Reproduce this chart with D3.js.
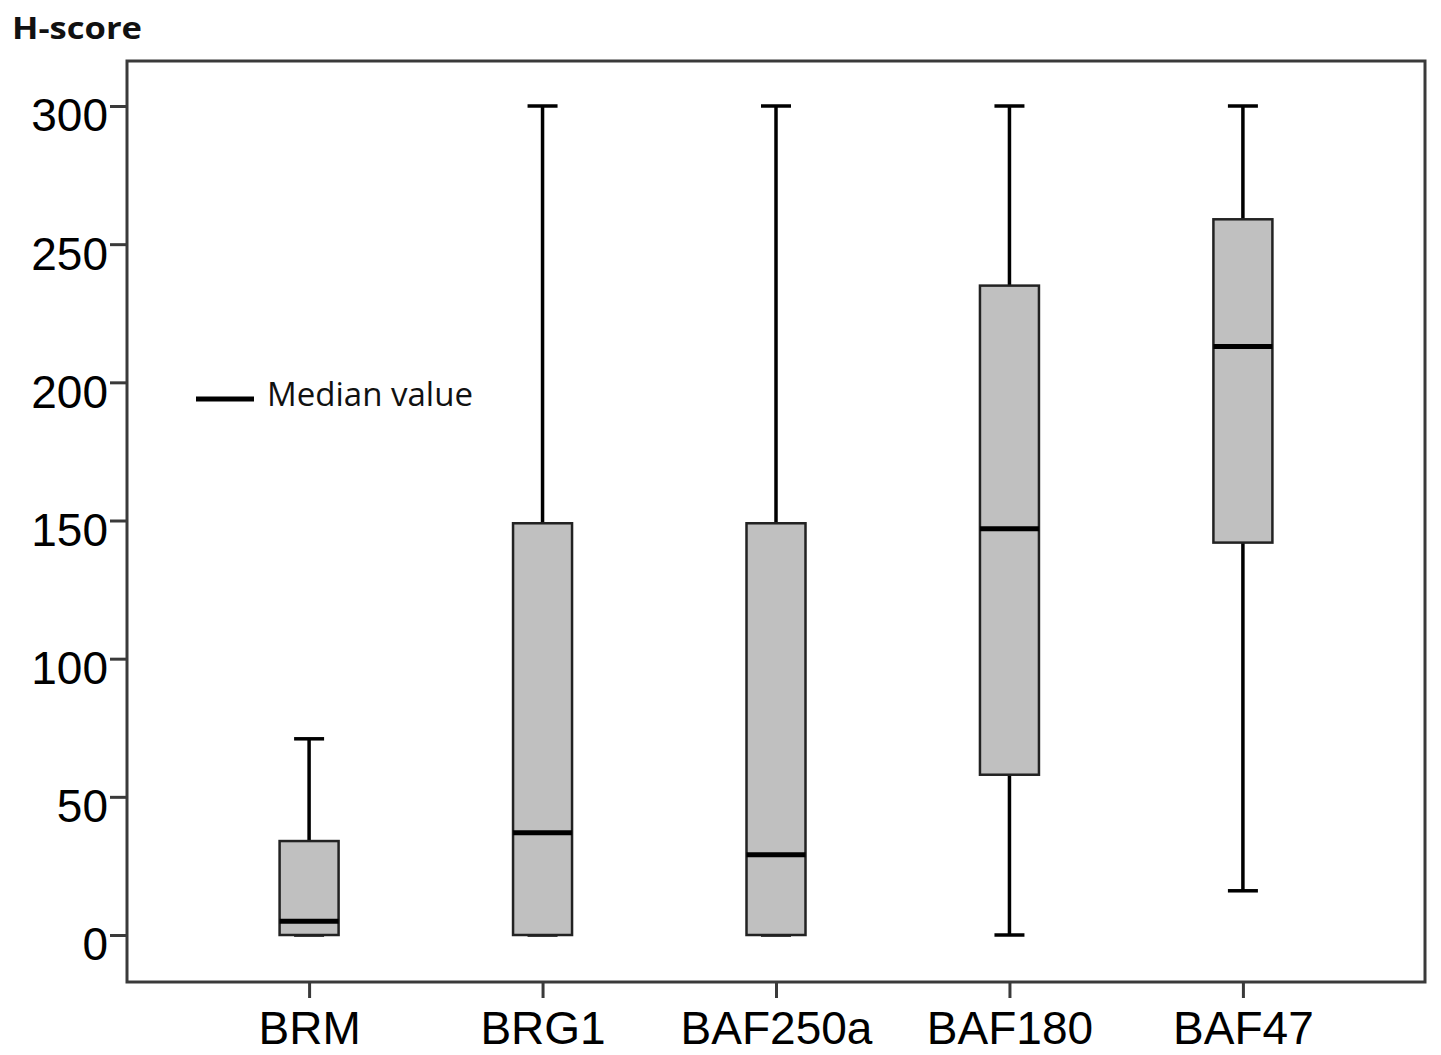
<!DOCTYPE html>
<html>
<head>
<meta charset="utf-8">
<script src="https://cdn.jsdelivr.net/npm/d3@7"></script>
<style>
  html, body { margin: 0; padding: 0; background: #fff; }
  svg { display: block; }
</style>
</head>
<body>
<svg id="chart" width="1441" height="1055"></svg>
<script>
(function () {
  "use strict";

  // box-plot summaries (H-score)
  const categories = ["BRM", "BRG1", "BAF250a", "BAF180", "BAF47"];
  const whiskerLow = [0, 0, 0, 0, 16];
  const q1 = [0, 0, 0, 58, 142];
  const median = [5, 37, 29, 147, 213];
  const q3 = [34, 149, 149, 235, 259];
  const whiskerHigh = [71, 300, 300, 300, 300];
  const yTicks = [0, 50, 100, 150, 200, 250, 300];

  const frame = { left: 127, right: 1425, top: 61, bottom: 982 };
  const boxWidth = 59;
  const capWidth = 30;

  const svg = d3.select("#chart");

  const x = d3.scalePoint()
    .domain(categories)
    .range([frame.left, frame.right])
    .padding(0.78);

  const y = d3.scaleLinear()
    .domain([0, 300])
    .range([935, 106]);

  const rows = categories.map((c, i) => ({
    cat: c,
    lo: whiskerLow[i],
    q1: q1[i],
    med: median[i],
    q3: q3[i],
    hi: whiskerHigh[i]
  }));

  // frame
  svg.append("rect")
    .attr("x", frame.left)
    .attr("y", frame.top)
    .attr("width", frame.right - frame.left)
    .attr("height", frame.bottom - frame.top)
    .attr("fill", "none")
    .attr("stroke", "#3a3a3a")
    .attr("stroke-width", 3);

  // y axis
  const yAxis = svg.append("g")
    .attr("transform", `translate(${frame.left},0)`)
    .call(d3.axisLeft(y).tickValues(yTicks).tickSize(17).tickPadding(2));
  yAxis.select(".domain").remove();
  yAxis.selectAll(".tick line").attr("stroke", "#3a3a3a").attr("stroke-width", 3);
  yAxis.selectAll(".tick text")
    .attr("font-family", "'Liberation Sans', Arial, sans-serif")
    .attr("font-size", 46)
    .attr("fill", "#000")
    .attr("dy", "0.54em");

  // x axis
  const xAxis = svg.append("g")
    .attr("transform", `translate(0,${frame.bottom})`)
    .call(d3.axisBottom(x).tickSize(16).tickPadding(13));
  xAxis.select(".domain").remove();
  xAxis.selectAll(".tick line").attr("stroke", "#3a3a3a").attr("stroke-width", 3);
  xAxis.selectAll(".tick text")
    .attr("font-family", "'Liberation Sans', Arial, sans-serif")
    .attr("font-size", 46)
    .attr("fill", "#000");

  const box = svg.append("g")
    .selectAll("g")
    .data(rows)
    .join("g")
    .attr("transform", (d) => `translate(${x(d.cat)},0)`);

  // whiskers
  box.append("line")
    .attr("y1", (d) => y(d.hi)).attr("y2", (d) => y(d.q3))
    .attr("stroke", "#000").attr("stroke-width", 3.5);
  box.append("line")
    .attr("y1", (d) => y(d.q1)).attr("y2", (d) => y(d.lo))
    .attr("stroke", "#000").attr("stroke-width", 3.5);
  box.append("line")
    .attr("x1", -capWidth / 2).attr("x2", capWidth / 2)
    .attr("y1", (d) => y(d.hi)).attr("y2", (d) => y(d.hi))
    .attr("stroke", "#000").attr("stroke-width", 3.5);
  box.append("line")
    .attr("x1", -capWidth / 2).attr("x2", capWidth / 2)
    .attr("y1", (d) => y(d.lo)).attr("y2", (d) => y(d.lo))
    .attr("stroke", "#000").attr("stroke-width", 3.5);

  // boxes
  box.append("rect")
    .attr("x", -boxWidth / 2)
    .attr("width", boxWidth)
    .attr("y", (d) => y(d.q3))
    .attr("height", (d) => y(d.q1) - y(d.q3))
    .attr("fill", "#c0c0c0")
    .attr("stroke", "#222")
    .attr("stroke-width", 2.5);

  // medians
  box.append("line")
    .attr("x1", -boxWidth / 2).attr("x2", boxWidth / 2)
    .attr("y1", (d) => y(d.med)).attr("y2", (d) => y(d.med))
    .attr("stroke", "#000").attr("stroke-width", 5);

  // legend
  svg.append("line")
    .attr("x1", 196).attr("x2", 254)
    .attr("y1", 399).attr("y2", 399)
    .attr("stroke", "#000").attr("stroke-width", 5);
  svg.append("text")
    .attr("x", 267).attr("y", 406)
    .attr("font-family", "'Open Sans', sans-serif")
    .attr("font-size", 32)
    .attr("textLength", 206)
    .attr("lengthAdjust", "spacingAndGlyphs")
    .attr("fill", "#111")
    .text("Median value");

  // axis title
  svg.append("text")
    .attr("x", 12).attr("y", 39)
    .attr("font-family", "'Open Sans', sans-serif")
    .attr("font-weight", "bold")
    .attr("font-size", 31)
    .attr("textLength", 130)
    .attr("lengthAdjust", "spacingAndGlyphs")
    .attr("fill", "#111")
    .text("H-score");
})();
</script>
</body>
</html>
